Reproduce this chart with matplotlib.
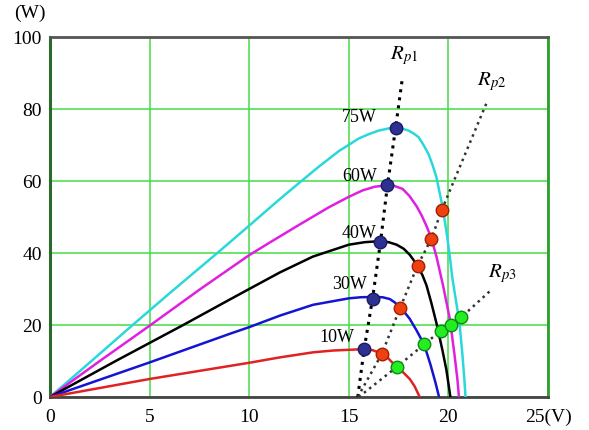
import matplotlib.pyplot as plt

plt.rcParams['font.family'] = 'Liberation Serif'
plt.rcParams['mathtext.fontset'] = 'stix'

# P-V curves: voltage (V) and power (W)
v75 = [0, 2, 4.15, 6, 8.4, 10, 11.5, 12.45, 13.5, 14.5, 15.5, 16.0, 16.5, 17.0, 17.35, 17.7, 18.0, 18.25, 18.5, 18.75, 19.0, 19.2, 19.4, 19.55, 19.7, 19.9, 20.05, 20.2, 20.4, 20.55, 20.7, 20.8, 20.86]
p75 = [0, 9.6, 20, 28.8, 40, 47.6, 54.8, 59.2, 64.0, 68.3, 71.8, 73.0, 74, 74.6, 74.8, 74.5, 74, 73.2, 72.2, 70, 67.5, 64.5, 61, 57, 53, 46, 40, 33, 26, 21, 12, 5, 0]
v60 = [0, 2.5, 5, 7.5, 10, 11, 12.5, 14, 15, 15.7, 16.3, 16.94, 17.3, 17.7, 18.05, 18.4, 18.65, 18.9, 19.15, 19.4, 19.73, 20.07, 20.3, 20.45, 20.53]
p60 = [0, 10, 19.8, 29.8, 39.4, 42.8, 47.8, 52.7, 55.6, 57.4, 58.4, 58.8, 58.6, 57.8, 55.8, 53, 50.5, 47.5, 44, 39, 31, 21.7, 12, 5, 0]
v40 = [0, 3.3, 6.69, 9, 10, 11.54, 13.2, 15, 15.8, 16.59, 17.0, 17.4, 17.75, 18.06, 18.45, 18.7, 18.9, 19.15, 19.4, 19.7, 19.9, 20.1]
p40 = [0, 10, 20, 27.0, 30, 34.6, 39.0, 42.3, 43.0, 43.3, 43.0, 42.3, 41.2, 39.5, 36.5, 33.8, 31, 26, 20.5, 13, 7.5, 0]
v30 = [0, 5, 9, 10, 11.54, 13.2, 15, 15.6, 16.2, 16.7, 17.06, 17.3, 17.58, 17.8, 18.06, 18.4, 18.78, 19.1, 19.35, 19.53]
p30 = [0, 9.6, 17.5, 19.4, 22.6, 25.6, 27.4, 27.7, 27.8, 27.7, 27.2, 26.3, 24.8, 23.5, 21.7, 18.5, 14.6, 9, 4, 0]
v10 = [0, 5, 10, 11.54, 13.2, 14.2, 15, 15.77, 16.2, 16.66, 16.9, 17.4, 17.7, 18.06, 18.3, 18.56]
p10 = [0, 5, 9.5, 11, 12.4, 12.9, 13.1, 13.3, 13.0, 12, 11.2, 8.3, 7, 5, 3, 0]

# load lines Rp1, Rp2, Rp3 and their operating points
rp1_v = [15.45, 15.77, 16.19, 16.59, 16.94, 17.35, 17.7]
rp1_p = [0, 13.3, 27.3, 43.0, 58.8, 74.8, 89]
rp2_v = [15.45, 16.66, 17.58, 18.45, 19.15, 19.67, 21.94]
rp2_p = [0, 12, 24.8, 36.5, 44, 52, 82]
rp3_v = [15.5, 17.4, 18.78, 19.62, 20.12, 20.64, 22.2]
rp3_p = [0, 8.3, 14.6, 18.4, 20.0, 22.1, 30]

curve_labels = ['75W', '60W', '40W', '30W', '10W']
label_v = [16.4, 16.4, 16.4, 15.9, 15.3]
label_p = [78, 61.4, 45.8, 31.4, 16.8]

fig = plt.figure(figsize=(5.89, 4.31), dpi=100)
ax = fig.add_axes([0.0849, 0.0766, 0.8455, 0.8353])

ax.plot(v75, p75, color='#2ad8dc', lw=1.8, zorder=3)
ax.plot(v60, p60, color='#e020e0', lw=1.8, zorder=3)
ax.plot(v40, p40, color='black', lw=1.8, zorder=3)
ax.plot(v30, p30, color='#1414d2', lw=1.8, zorder=3)
ax.plot(v10, p10, color='#e02222', lw=1.8, zorder=3)

ax.plot(rp1_v, rp1_p, ':', color='black', lw=2.2, zorder=4)
ax.plot(rp2_v, rp2_p, ':', color='#333333', lw=1.8, zorder=4)
ax.plot(rp3_v, rp3_p, ':', color='#333333', lw=1.8, zorder=4)

ax.plot(rp1_v[1:-1], rp1_p[1:-1], 'o', ms=9, color='#2e3192', mec='#1a1a60', zorder=5)
ax.plot(rp2_v[1:-1], rp2_p[1:-1], 'o', ms=9, color='#ee4010', mec='#a02000', zorder=5)
ax.plot(rp3_v[1:-1], rp3_p[1:-1], 'o', ms=9, color='#22ee22', mec='#118811', zorder=5)

for s, x, y in zip(curve_labels, label_v, label_p):
    ax.text(x, y, s, ha='right', va='center', fontsize=13, zorder=6)

ax.text(17.76, 95, r'$R_{p1}$', ha='center', va='center', fontsize=15)
ax.text(22.18, 87.8, r'$R_{p2}$', ha='center', va='center', fontsize=15)
ax.text(22.7, 34.7, r'$R_{p3}$', ha='center', va='center', fontsize=15)

ax.set_xlim(0, 25)
ax.set_ylim(0, 100)
ax.set_xticks([0, 5, 10, 15, 20, 25])
ax.set_xticklabels(['0', '5', '10', '15', '20', '25(V)'])
ax.set_yticks([0, 20, 40, 60, 80, 100])
ax.tick_params(length=0, labelsize=14)
ax.tick_params(axis='x', pad=8)
ax.tick_params(axis='y', pad=6)
ax.text(-0.04, 1.069, '(W)', transform=ax.transAxes, ha='center', va='center', fontsize=14)

ax.grid(color='#44dd44', lw=1.1)
ax.spines['left'].set_color('#2a6a2a')
ax.spines['left'].set_linewidth(2.2)
ax.spines['right'].set_color('#2aa02a')
ax.spines['right'].set_linewidth(2)
ax.spines['top'].set_color('#555555')
ax.spines['top'].set_linewidth(2)
ax.spines['bottom'].set_color('#444444')
ax.spines['bottom'].set_linewidth(2)

plt.savefig('out.png', dpi=100)
